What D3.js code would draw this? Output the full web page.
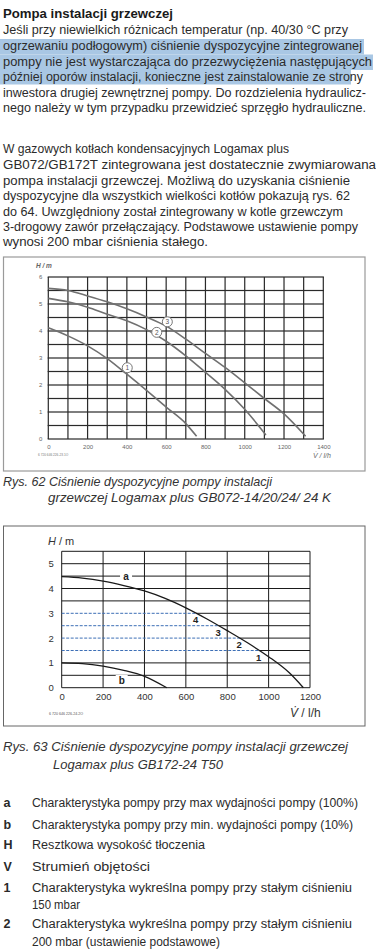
<!DOCTYPE html>
<html><head><meta charset="utf-8">
<script src="https://cdn.jsdelivr.net/npm/d3@7"></script>
<style>
body{margin:0;background:#fff}
svg{display:block}
text{font-family:"Liberation Sans",Arial,sans-serif}
</style>
</head><body>
<svg id="c" width="376" height="949"></svg>
<script>
// ---------- DATA ----------
const fig62XTicks = [0, 200, 400, 600, 800, 1000, 1200, 1400];
const fig62YTicks = [0, 1, 2, 3, 4, 5, 6];
const fig62XGrid = [0, 100, 200, 300, 400, 500, 600, 700, 800, 900, 1000, 1100, 1200, 1300, 1400];
const fig62YGrid = [0, 0.5, 1, 1.5, 2, 2.5, 3, 3.5, 4, 4.5, 5, 5.5, 6];
const fig62Curve1 = [[0,4.12],[100,3.82],[200,3.45],[300,2.98],[400,2.4],[500,1.8],[600,1.18],[700,0.57],[755,0.1]];
const fig62Curve2 = [[0,5.21],[100,5.08],[200,4.88],[300,4.62],[400,4.38],[500,4.05],[600,3.62],[700,3.08],[800,2.47],[900,1.84],[1000,1.1],[1108,0.15]];
const fig62Curve3 = [[0,5.58],[100,5.5],[200,5.3],[300,5.08],[400,4.82],[500,4.52],[600,4.18],[700,3.7],[800,3.17],[900,2.65],[1000,2.08],[1100,1.5],[1200,0.93],[1310,0.1]];
const fig62Markers = [["1",402,2.64],["2",552,3.95],["3",606,4.34]];

const fig63XTicks = [0, 200, 400, 600, 800, 1000, 1200];
const fig63YTicks = [0, 1, 2, 3, 4, 5];
const fig63YGrid = [0, 0.5, 1, 1.5, 2, 2.5, 3, 3.5, 4, 4.5, 5, 5.5];
const fig63CurveA = [[0,4.48],[100,4.42],[200,4.3],[300,4.12],[400,3.9],[500,3.6],[600,3.22],[700,2.78],[800,2.3],[900,1.8],[1000,1.25],[1100,0.6],[1168,0]];
const fig63CurveB = [[0,1.0],[100,0.97],[200,0.87],[300,0.7],[400,0.46],[508,0]];
const fig63ConstPressure = [["1",1.5],["2",2.0],["3",2.5],["4",3.0]];
const fig63CurveLabels = [["a",311,4.5],["b",290,0.31]];

// ---------- TEXT ----------
const para1 = [
  ["Pompa instalacji grzewczej", 170, true],
  ["Jeśli przy niewielkich różnicach temperatur (np. 40/30 °C przy", 345],
  ["ogrzewaniu podłogowym) ciśnienie dyspozycyjne zintegrowanej", 359],
  ["pompy nie jest wystarczająca do przezwyciężenia następujących", 369],
  ["później oporów instalacji, konieczne jest zainstalowanie ze strony", 360],
  ["inwestora drugiej zewnętrznej pompy. Do rozdzielenia hydraulicz-", 363],
  ["nego należy w tym przypadku przewidzieć sprzęgło hydrauliczne.", 363]
];
const para1Base = [17.5, 34, 50, 65.5, 81, 96.5, 111.5];
const para2 = [
  ["W gazowych kotłach kondensacyjnych Logamax plus", 286],
  ["GB072/GB172T zintegrowana jest dostatecznie zwymiarowana", 373],
  ["pompa instalacji grzewczej. Możliwą do uzyskania ciśnienie", 347],
  ["dyspozycyjne dla wszystkich wielkości kotłów pokazują rys. 62", 347],
  ["do 64. Uwzględniony został zintegrowany w kotle grzewczym", 340],
  ["3-drogowy zawór przełączający. Podstawowe ustawienie pompy", 355],
  ["wynosi 200 mbar ciśnienia stałego.", 205]
];
const para2Base = [153, 169, 184.5, 200, 215.5, 231, 246];
const legendItems = [
  ["a", "Charakterystyka pompy przy max wydajności pompy (100%)", 326, 806.5],
  ["b", "Charakterystyka pompy przy min. wydajności pompy (10%)", 321, 828.5],
  ["H", "Resztkowa wysokość tłoczenia", 173, 849],
  ["V", "Strumień objętości", 118, 870.5],
  ["1", "Charakterystyka wykreślna pompy przy stałym ciśnieniu", 320, 891.5],
  ["", "150 mbar", 48, 908.5],
  ["2", "Charakterystyka wykreślna pompy przy stałym ciśnieniu", 320, 927.5],
  ["", "200 mbar (ustawienie podstawowe)", 188, 945.5]
];

// ---------- DRAW ----------
const svg = d3.select("#c");
function txt(x, y, s, o = {}) {
  const t = svg.append("text").attr("x", x).attr("y", y).text(s)
    .attr("font-size", o.size || 12.5).attr("fill", o.fill || "#2b2b2b");
  if (o.w) t.attr("textLength", o.w).attr("lengthAdjust", "spacingAndGlyphs");
  if (o.bold) t.attr("font-weight", "bold");
  if (o.italic) t.attr("font-style", "italic");
  if (o.anchor) t.attr("text-anchor", o.anchor);
  return t;
}
const fmt = d3.format("d");

const hl = "#a9c7e4";
svg.append("rect").attr("x", 0).attr("y", 39).attr("width", 364).attr("height", 15.5).attr("fill", hl);
svg.append("rect").attr("x", 0).attr("y", 54.5).attr("width", 373).attr("height", 15.5).attr("fill", hl);
svg.append("rect").attr("x", 0).attr("y", 70).attr("width", 351).attr("height", 14.5).attr("fill", hl);

para1.forEach((d, i) => txt(3, para1Base[i], d[0], { w: d[1], bold: d[2], fill: d[2] ? "#1a1a1a" : "#2b2b2b" }));
para2.forEach((d, i) => txt(3, para2Base[i], d[0], { w: d[1] }));

// ----- Figure 62 -----
svg.append("rect").attr("x", 3.5).attr("y", 257).attr("width", 361.5).attr("height", 214)
  .attr("fill", "none").attr("stroke", "#9a9a9a").attr("stroke-width", 1.2);
const x1 = d3.scaleLinear().domain([0, 1400]).range([48.3, 323.3]);
const y1 = d3.scaleLinear().domain([0, 6]).range([439, 277]);
const g1 = svg.append("g");
g1.selectAll("rect.gv").data(fig62XGrid).join("rect").attr("class", "gv")
  .attr("x", d => x1(d) - 0.6).attr("y", y1(6)).attr("width", 1.2).attr("height", y1(0) - y1(6))
  .attr("fill", "#2a2a2a");
g1.selectAll("rect.gh").data(fig62YGrid).join("rect").attr("class", "gh")
  .attr("x", x1(0) - 0.6).attr("y", d => y1(d) - 0.6).attr("width", x1(1400) - x1(0) + 1.2).attr("height", 1.2)
  .attr("fill", "#2a2a2a");
g1.append("g").attr("transform", `translate(0,${y1(0) + 4})`)
  .call(d3.axisBottom(x1).tickValues(fig62XTicks).tickSize(0).tickPadding(2).tickFormat(fmt))
  .call(g => { g.select(".domain").remove(); g.selectAll("text").attr("font-size", 6).attr("fill", "#666").attr("font-family", "Liberation Sans"); });
g1.append("g").attr("transform", `translate(${x1(0) - 4},0)`)
  .call(d3.axisLeft(y1).tickValues(fig62YTicks).tickSize(0).tickPadding(2).tickFormat(fmt))
  .call(g => { g.select(".domain").remove(); g.selectAll("text").attr("font-size", 6).attr("fill", "#666").attr("font-family", "Liberation Sans"); });
const line1 = d3.line().x(d => x1(d[0])).y(d => y1(d[1])).curve(d3.curveMonotoneX);
[fig62Curve1, fig62Curve2, fig62Curve3].forEach(c =>
  g1.append("path").attr("d", line1(c)).attr("fill", "none").attr("stroke", "#707070").attr("stroke-width", 1.6));
fig62Markers.forEach(m => {
  g1.append("circle").attr("cx", x1(m[1])).attr("cy", y1(m[2])).attr("r", 5)
    .attr("fill", "#fff").attr("stroke", "#777").attr("stroke-width", 1);
  g1.append("text").attr("x", x1(m[1])).attr("y", y1(m[2]) + 2.3).attr("text-anchor", "middle")
    .attr("font-size", 6.5).attr("fill", "#555").text(m[0]);
});
txt(36, 268, "H / m", { size: 6.5, italic: true, bold: true, fill: "#666" });
txt(313, 457.5, "V̇ / l/h", { size: 7, italic: true, fill: "#666" });
txt(38, 455.5, "6 720 646 226-23.1O", { size: 3.2, fill: "#777" });

txt(3, 486, "Rys. 62 Ciśnienie dyspozycyjne pompy instalacji", { size: 13, italic: true, w: 269, fill: "#333" });
txt(48, 502, "grzewczej Logamax plus GB072-14/20/24/ 24 K", { size: 13, italic: true, w: 283, fill: "#333" });

// ----- Figure 63 -----
svg.append("rect").attr("x", 3.5).attr("y", 526).attr("width", 361.5).attr("height", 200)
  .attr("fill", "none").attr("stroke", "#666").attr("stroke-width", 1);
const x2 = d3.scaleLinear().domain([0, 1200]).range([61.7, 310]);
const y2 = d3.scaleLinear().domain([0, 5.5]).range([687.7, 551.3]);
const g2 = svg.append("g");
g2.selectAll("line.gv").data(fig63XTicks).join("line").attr("class", "gv")
  .attr("x1", d => x2(d)).attr("x2", d => x2(d)).attr("y1", y2(0)).attr("y2", y2(5.5))
  .attr("stroke", "#1a1a1a").attr("stroke-width", 1);
const cpLevels = fig63ConstPressure.map(d => d[1]);
g2.selectAll("line.gh").data(fig63YGrid.filter(h => !cpLevels.includes(h))).join("line").attr("class", "gh")
  .attr("x1", x2(0)).attr("x2", x2(1200)).attr("y1", d => y2(d)).attr("y2", d => y2(d))
  .attr("stroke", "#1a1a1a").attr("stroke-width", 1);
function crossV(h) {
  for (let i = 1; i < fig63CurveA.length; i++) {
    const [v0, h0] = fig63CurveA[i - 1], [v1, h1] = fig63CurveA[i];
    if (h <= h0 && h >= h1) return v0 + (h0 - h) / (h0 - h1) * (v1 - v0);
  }
  return 0;
}
fig63ConstPressure.forEach(d => {
  const cv = crossV(d[1]);
  g2.append("line").attr("x1", x2(0)).attr("x2", x2(cv)).attr("y1", y2(d[1])).attr("y2", y2(d[1]))
    .attr("stroke", "#3d6fb6").attr("stroke-width", 1).attr("stroke-dasharray", "3,1.5");
  g2.append("line").attr("x1", x2(cv)).attr("x2", x2(1200)).attr("y1", y2(d[1])).attr("y2", y2(d[1]))
    .attr("stroke", "#1a1a1a").attr("stroke-width", 1);
  g2.append("text").attr("x", x2(cv) - 0.5).attr("y", y2(d[1]) + 10).attr("text-anchor", "middle")
    .attr("font-size", 9.5).attr("font-weight", "bold").attr("fill", "#222").text(d[0]);
});
const line2 = d3.line().x(d => x2(d[0])).y(d => y2(d[1])).curve(d3.curveMonotoneX);
[fig63CurveA, fig63CurveB].forEach(c =>
  g2.append("path").attr("d", line2(c)).attr("fill", "none").attr("stroke", "#1a1a1a").attr("stroke-width", 1.3));
fig63CurveLabels.forEach(l => {
  g2.append("rect").attr("x", x2(l[1]) - 6).attr("y", y2(l[2]) - 5).attr("width", 12).attr("height", 10).attr("fill", "#fff");
  g2.append("text").attr("x", x2(l[1])).attr("y", y2(l[2]) + 3.5).attr("text-anchor", "middle")
    .attr("font-size", 10).attr("font-weight", "bold").attr("fill", "#222").text(l[0]);
});
g2.append("g").attr("transform", `translate(0,${y2(0) + 4})`)
  .call(d3.axisBottom(x2).tickValues(fig63XTicks).tickSize(0).tickPadding(2).tickFormat(fmt))
  .call(g => { g.select(".domain").remove(); g.selectAll("text").attr("font-size", 9.5).attr("fill", "#333").attr("font-family", "Liberation Sans"); });
g2.append("g").attr("transform", `translate(${x2(0) - 6},0)`)
  .call(d3.axisLeft(y2).tickValues(fig63YTicks).tickSize(0).tickPadding(2).tickFormat(fmt))
  .call(g => { g.select(".domain").remove(); g.selectAll("text").attr("font-size", 9.5).attr("fill", "#333").attr("font-family", "Liberation Sans"); });
const hm = txt(48, 545, "", { size: 11, fill: "#333" });
hm.append("tspan").attr("font-style", "italic").text("H");
hm.append("tspan").text(" / m");
const vl = txt(290, 717, "", { size: 12, fill: "#333" });
vl.append("tspan").attr("font-style", "italic").text("V̇");
vl.append("tspan").text(" / l/h");
txt(49, 715, "6 720 646 226-24.2O", { size: 3.6, fill: "#555" });

txt(3, 751, "Rys. 63 Ciśnienie dyspozycyjne pompy instalacji grzewczej", { size: 13, italic: true, w: 345, fill: "#333" });
txt(53, 769, "Logamax plus GB172-24 T50", { size: 13, italic: true, w: 170, fill: "#333" });

legendItems.forEach(d => {
  if (d[0]) txt(3.5, d[3], d[0], { bold: true, fill: "#2a2a2a" });
  txt(32, d[3], d[1], { w: d[2] });
});
</script>
</body></html>
